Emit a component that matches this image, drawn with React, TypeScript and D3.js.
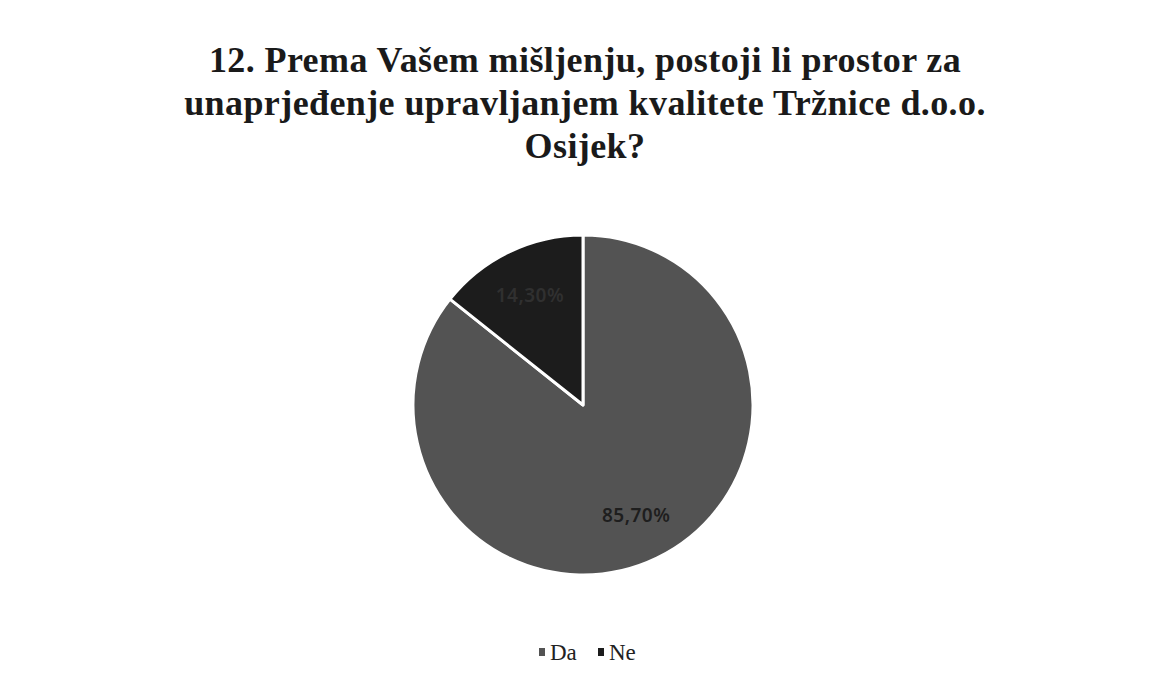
import { useRef, useEffect } from 'react';
import * as d3 from 'd3';

// chart data
const categories = ['Da', 'Ne'];
const shares = [85.7, 14.3];
const labels = ['85,70%', '14,30%'];
const colors = ['#535353', '#1c1c1c'];
const titleLines = [
  '12. Prema Vašem mišljenju, postoji li prostor za',
  'unaprjeđenje upravljanjem kvalitete Tržnice d.o.o.',
  'Osijek?',
];

const W = 1151;
const H = 684;

export default function App() {
  const svgRef = useRef<SVGSVGElement>(null);

  useEffect(() => {
    if (!svgRef.current) return;
    const svg = d3.select(svgRef.current);
    svg.selectAll('*').remove();

    svg.append('rect')
      .attr('x', 0.5).attr('y', 0.5)
      .attr('width', W - 1).attr('height', H - 1)
      .attr('fill', '#fff')
      .attr('stroke', '#ececec');

    // Title
    const title = svg.append('text')
      .attr('text-anchor', 'middle')
      .attr('font-family', '"Liberation Serif", "Times New Roman", serif')
      .attr('font-weight', 'bold')
      .attr('font-size', '36px')
      .attr('letter-spacing', '0.4px')
      .attr('fill', '#1a1a1a');
    titleLines.forEach((t, i) => {
      title.append('tspan')
        .attr('x', 585)
        .attr('y', 72 + i * 43)
        .text(t);
    });

    // Pie
    const cx = 583, cy = 405, r = 170;
    const pie = d3.pie<number>().sort(null).value(d => d);
    const arcs = pie(shares);
    const arc = d3.arc<d3.PieArcDatum<number>>().innerRadius(0).outerRadius(r);
    const labelArc = d3.arc<d3.PieArcDatum<number>>().innerRadius(r * 0.72).outerRadius(r * 0.72);

    const g = svg.append('g').attr('transform', `translate(${cx},${cy})`);
    g.selectAll('path.slice')
      .data(arcs)
      .enter()
      .append('path')
      .attr('class', 'slice')
      .attr('d', arc)
      .attr('fill', (_, i) => colors[i])
      .attr('stroke', '#fff')
      .attr('stroke-width', 3)
      .attr('stroke-linejoin', 'round');

    g.selectAll('text.lbl')
      .data(arcs)
      .enter()
      .append('text')
      .attr('class', 'lbl')
      .attr('transform', d => {
        const [x, y] = labelArc.centroid(d);
        return `translate(${x},${y})`;
      })
      .attr('text-anchor', 'middle')
      .attr('dominant-baseline', 'central')
      .attr('font-family', '"Noto Sans", Arial, sans-serif')
      .attr('font-weight', 600)
      .attr('font-size', '19px')
      .attr('letter-spacing', '0.5px')
      .attr('fill', (_, i) => (i === 0 ? '#1e1e1e' : '#303030'))
      .text((_, i) => labels[i]);

    // Legend
    const legendY = 660;
    const legend = svg.append('g');
    const itemX = [539, 598];
    categories.forEach((c, i) => {
      legend.append('rect')
        .attr('x', itemX[i])
        .attr('y', legendY - 12)
        .attr('width', 6)
        .attr('height', 8)
        .attr('fill', colors[i]);
      legend.append('text')
        .attr('x', itemX[i] + 11)
        .attr('y', legendY)
        .attr('font-family', '"Liberation Serif", "Times New Roman", serif')
        .attr('font-size', '23px')
        .attr('fill', '#222')
        .text(c);
    });
  }, []);

  return (
    <div style={{ margin: -8 }}>
      <svg ref={svgRef} width={W} height={H} style={{ display: 'block' }} />
    </div>
  );
}
